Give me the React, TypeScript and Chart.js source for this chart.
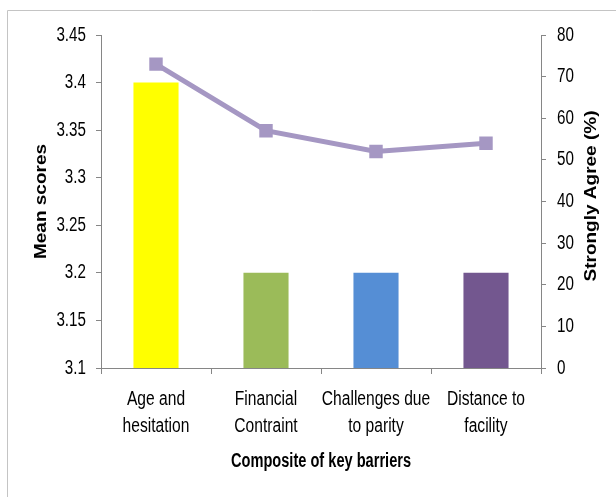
import React, { useEffect, useRef } from "react";
import { Chart, registerables } from "chart.js";

Chart.register(...registerables);

// Barrier categories (two-line labels under the x axis)
const categories: string[][] = [
  ["Age and", "hesitation"],
  ["Financial", "Contraint"],
  ["Challenges due", "to parity"],
  ["Distance to", "facility"],
];

// Mean score per barrier (left axis)
const meanScores: number[] = [3.4, 3.2, 3.2, 3.2];

// Share of respondents who strongly agree, in % (right axis)
const stronglyAgree: number[] = [73, 57, 52, 54];

const barColors: string[] = ["#FFFF00", "#9BBB59", "#558ED5", "#73578F"];

const xTitle = "Composite of key barriers";
const yTitle = "Mean scores";
const y1Title = "Strongly Agree (%)";

const FONT = "'Liberation Sans', Arial, sans-serif";
const AXIS = "#868686";
const LINE = "#A597C3";

// draws text squeezed horizontally so it reads as a condensed face
function squeezedText(ctx: CanvasRenderingContext2D, text: string, x: number, y: number, sx: number) {
  ctx.save();
  ctx.translate(x, y);
  ctx.scale(sx, 1);
  ctx.fillText(text, 0, 0);
  ctx.restore();
}

const textPlugin = {
  id: "axisText",
  afterDraw(chart: any) {
    const { ctx, chartArea, scales } = chart;
    ctx.save();

    // light frame along the top and left edges
    ctx.strokeStyle = "#C4C4C4";
    ctx.lineWidth = 1;
    ctx.beginPath();
    ctx.moveTo(7.5, 497);
    ctx.lineTo(7.5, 10.5);
    ctx.lineTo(616, 10.5);
    ctx.stroke();

    ctx.fillStyle = "#000000";
    ctx.textBaseline = "middle";

    // left axis tick labels
    ctx.font = `20px ${FONT}`;
    ctx.textAlign = "right";
    const y = scales.y;
    y.ticks.forEach((t: any) => {
      squeezedText(ctx, t.label, y.right - 15, y.getPixelForValue(t.value), 0.76);
    });

    // right axis tick labels
    ctx.textAlign = "left";
    const y1 = scales.y1;
    y1.ticks.forEach((t: any) => {
      squeezedText(ctx, t.label, y1.left + 16, y1.getPixelForValue(t.value), 0.76);
    });

    // category labels
    ctx.textAlign = "center";
    const x = scales.x;
    x.ticks.forEach((_t: any, i: number) => {
      const px = x.getPixelForTick(i);
      const lines = chart.data.labels[i] as string[];
      lines.forEach((line, j) => {
        squeezedText(ctx, line, px, chartArea.bottom + 31 + j * 27, 0.78);
      });
    });

    // x axis title
    ctx.font = `bold 20px ${FONT}`;
    squeezedText(ctx, xTitle, (chartArea.left + chartArea.right) / 2, 461, 0.73);

    const midY = (chartArea.top + chartArea.bottom) / 2;

    // left axis title
    ctx.font = `bold 19px ${FONT}`;
    ctx.save();
    ctx.translate(41, midY);
    ctx.rotate(-Math.PI / 2);
    ctx.scale(1, 0.9);
    ctx.fillText(yTitle, 0, 0);
    ctx.restore();

    // right axis title
    ctx.save();
    ctx.translate(591, 196);
    ctx.rotate(-Math.PI / 2);
    ctx.scale(1, 0.9);
    ctx.fillText(y1Title, 0, 0);
    ctx.restore();

    ctx.restore();
  },
};

export default function App() {
  const canvasRef = useRef<HTMLCanvasElement | null>(null);

  useEffect(() => {
    document.body.style.margin = "0";
    const canvas = canvasRef.current;
    if (!canvas) return;

    const hidden = "rgba(0,0,0,0)";
    const tickFont = { family: FONT, size: 18 };

    const chart = new Chart(canvas, {
      type: "bar",
      data: {
        labels: categories,
        datasets: [
          {
            type: "line",
            label: y1Title,
            data: stronglyAgree,
            yAxisID: "y1",
            borderColor: LINE,
            backgroundColor: LINE,
            borderWidth: 5,
            pointStyle: "rect",
            pointRadius: 9.5,
            pointBorderWidth: 0,
            pointBackgroundColor: LINE,
            tension: 0,
            order: 0,
          },
          {
            type: "bar",
            label: yTitle,
            data: meanScores,
            yAxisID: "y",
            backgroundColor: barColors,
            borderWidth: 0,
            barPercentage: 0.41,
            categoryPercentage: 1,
            order: 1,
          },
        ],
      } as any,
      options: {
        responsive: false,
        animation: false,
        devicePixelRatio: 1,
        layout: { padding: { top: 35, left: 0, right: 0, bottom: 0 } },
        plugins: {
          legend: { display: false },
          tooltip: { enabled: false },
        },
        scales: {
          x: {
            offset: true,
            grid: {
              offset: true,
              drawOnChartArea: false,
              drawTicks: true,
              tickLength: 6,
              color: AXIS,
            },
            border: { display: true, color: AXIS, width: 1 },
            ticks: {
              color: hidden,
              font: tickFont,
              maxRotation: 0,
              autoSkip: false,
            },
            afterFit: (s: any) => {
              s.height = 129;
            },
          },
          y: {
            position: "left",
            min: 3.1,
            max: 3.45,
            grid: {
              drawOnChartArea: false,
              drawTicks: true,
              tickLength: 5,
              color: AXIS,
            },
            border: { display: true, color: AXIS, width: 1 },
            ticks: {
              stepSize: 0.05,
              color: hidden,
              font: tickFont,
              callback: (v: any) => Number(Number(v).toFixed(2)).toString(),
            },
            afterFit: (s: any) => {
              s.width = 101;
            },
          },
          y1: {
            position: "right",
            min: 0,
            max: 80,
            grid: {
              drawOnChartArea: false,
              drawTicks: true,
              tickLength: 5,
              color: AXIS,
            },
            border: { display: true, color: AXIS, width: 1 },
            ticks: {
              stepSize: 10,
              color: hidden,
              font: tickFont,
            },
            afterFit: (s: any) => {
              s.width = 75;
            },
          },
        },
      } as any,
      plugins: [textPlugin],
    });

    return () => chart.destroy();
  }, []);

  return (
    <div style={{ width: 616, height: 497, background: "#ffffff" }}>
      <canvas ref={canvasRef} width={616} height={497} style={{ display: "block" }} />
    </div>
  );
}
